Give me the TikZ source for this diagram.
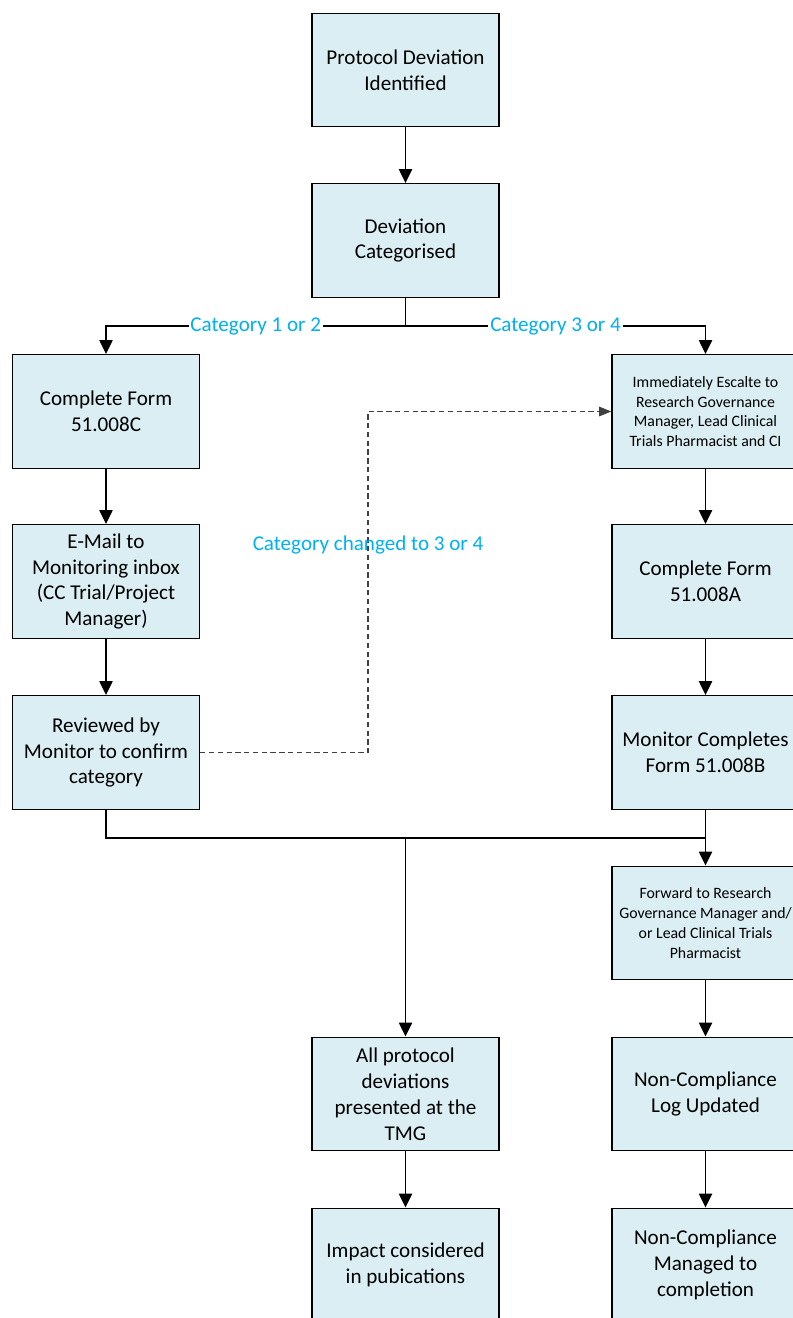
\documentclass[tikz,border=0pt]{standalone}
\usepackage{fontspec}
\setmainfont{Carlito}
\usetikzlibrary{arrows.meta}
\definecolor{paleblue}{RGB}{218, 238, 243}
\definecolor{skyblue}{RGB}{0, 176, 240}

\begin{document}
\begin{tikzpicture}[x=0.02cm, y=-0.02cm,
        procbox/.style={draw=black, fill=paleblue, line width=0.8pt, minimum width=3.74cm,
                        minimum height=2.27cm, align=center, inner sep=1pt,
                        font=\fontsize{12}{14.7}\selectfont},
        smallbox/.style={procbox, font=\fontsize{9}{11.3}\selectfont},
        flow/.style={-{Triangle[length=8pt, width=7.5pt]}, line width=1.1pt},
        catlabel/.style={text=skyblue, font=\fontsize{12}{14.7}\selectfont}]
    \useasboundingbox (0,0) rectangle (792,1318);

    % middle column
    \node[procbox]  (identified) at (405.5,  70.0) {Protocol Deviation\\Identified};
    \node[procbox]  (categorised) at (405.5, 240.5) {Deviation\\Categorised};
    \node[procbox]  (tmg)        at (405.5,1094.0) {All protocol\\deviations\\presented at the\\TMG};
    \node[procbox]  (impact)     at (405.5,1265.0) {Impact considered\\in pubications};

    % category 1 or 2
    \node[procbox]  (formc)      at (106.0, 411.5) {Complete Form\\51.008C};
    \node[procbox]  (email)      at (106.0, 581.5) {E-Mail to\\Monitoring inbox\\(CC Trial/Project\\Manager)};
    \node[procbox]  (reviewed)   at (106.0, 752.5) {Reviewed by\\Monitor to confirm\\category};

    % category 3 or 4
    \node[smallbox] (escalate)   at (705.5, 411.5) {Immediately Escalte to\\Research Governance\\Manager, Lead Clinical\\Trials Pharmacist and CI};
    \node[procbox]  (forma)      at (705.5, 581.5) {Complete Form\\51.008A};
    \node[procbox]  (formb)      at (705.5, 752.5) {Monitor Completes\\Form 51.008B};
    \node[smallbox] (forward)    at (705.5, 923.0) {Forward to Research\\Governance Manager and/\\or Lead Clinical Trials\\Pharmacist};
    \node[procbox]  (nclog)      at (705.5,1094.0) {Non-Compliance\\Log Updated};
    \node[procbox]  (ncmanaged)  at (705.5,1265.0) {Non-Compliance\\Managed to\\completion};

    \coordinate (split)  at (405.5, 326.0);
    \coordinate (merge)  at (405.5, 838.0);
    \coordinate (detour) at (368.0, 545.0);

    \draw[flow] (identified) -- (categorised);
    \draw[line width=1.1pt] (categorised) -- (split);
    \draw[flow] (split) -- node[catlabel, fill=white, inner sep=1pt] {Category 1 or 2} (split -| formc) -- (formc);
    \draw[flow] (split) -- node[catlabel, fill=white, inner sep=1pt] {Category 3 or 4} (split -| escalate) -- (escalate);

    \draw[flow] (formc) -- (email);
    \draw[flow] (email) -- (reviewed);
    \draw[flow] (escalate) -- (forma);
    \draw[flow] (forma) -- (formb);

    \draw[-{Triangle[length=7pt, width=5.5pt]}, black!75, line width=0.6pt, dash pattern=on 3pt off 2pt]
        (reviewed.east) -| (detour) |- (escalate.west);
    \node[catlabel] (changed) at (detour) {Category changed to 3 or 4};

    \draw[line width=1.1pt] (reviewed) |- (merge -| formb);
    \draw[flow] (formb) -- (forward);
    \draw[flow] (merge) -- (tmg);
    \draw[flow] (forward) -- (nclog);
    \draw[flow] (nclog) -- (ncmanaged);
    \draw[flow] (tmg) -- (impact);
\end{tikzpicture}
\end{document}
